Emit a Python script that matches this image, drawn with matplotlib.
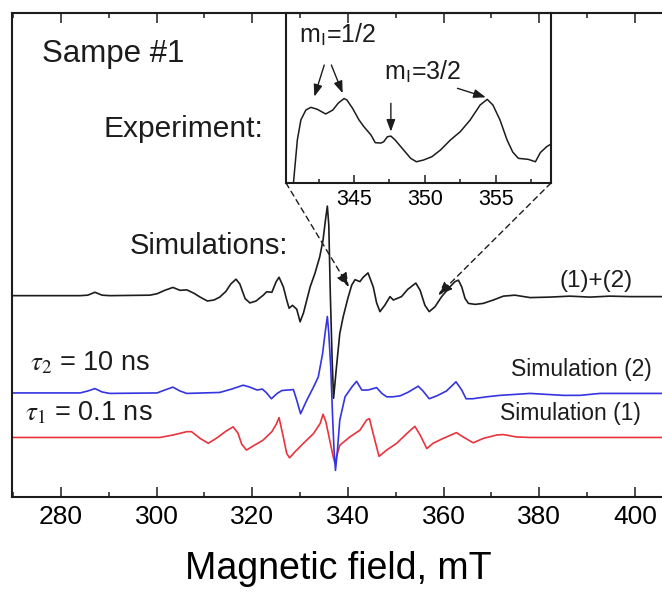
import matplotlib.pyplot as plt
from matplotlib.ticker import MultipleLocator

plt.rcParams['font.family'] = ['Liberation Sans', 'DejaVu Sans']
plt.rcParams['mathtext.fontset'] = 'stix'
plt.rcParams['lines.solid_joinstyle'] = 'round'

# (1)+(2): summed simulation, field in mT, signal in arbitrary units
sum_field = [269.8, 284.0, 285.6, 287.1, 288.6, 290.2, 298.6, 300.1, 301.7, 303.4,
             304.9, 306.3, 307.8, 309.1, 310.6, 312.0, 313.2, 314.5, 315.5, 316.6,
             317.4, 318.5, 319.5, 320.8, 322.3, 323.0, 324.1, 325.0, 325.6, 326.5,
             327.2, 327.7, 328.4, 329.3, 330.0, 330.7, 331.4, 332.1, 333.1, 334.1,
             334.8, 335.3, 335.7, 336.0, 336.3, 336.7, 337.0, 337.6, 338.3, 339.0,
             340.0, 340.8, 341.5, 342.5, 343.2, 344.2, 345.3, 346.0, 346.7, 347.7,
             348.8, 349.5, 351.2, 352.5, 354.2, 355.1, 356.1, 357.0, 358.2, 359.6,
             361.3, 362.4, 363.1, 363.8, 364.5, 365.2, 366.6, 368.3, 370.4, 372.5,
             374.9, 378.1, 382.2, 386.4, 390.6, 394.8, 399.0, 406.0]
sum_signal = [0.0, 0.0, 0.1, 0.7, 0.1, 0.0, 0.1, 0.4, 1.1, 1.7,
              1.1, 1.2, 0.5, -0.3, -1.1, -0.9, -0.3, 0.9, 2.4, 3.4,
              2.4, -0.6, -1.5, -1.1, 0.1, 0.8, 0.7, 2.9, 3.8, 1.8,
              -0.9, -2.6, -2.0, -2.8, -5.4, -3.6, -0.9, 1.8, 4.6, 8.0,
              11.5, 15.6, 18.5, 14.6, 1.1, -13.3, -21.2, -14.8, -7.8, -4.4,
              -0.5, 2.2, 3.3, 2.9, 3.8, 4.7, 1.8, -1.5, -3.3, -2.0,
              -0.2, -0.9, -0.2, 1.3, 2.6, 1.1, -2.0, -3.3, -2.3, -0.2,
              1.8, 2.9, 3.2, 1.8, -0.6, -1.6, -1.8, -1.6, -0.9, -0.1,
              0.1, -0.4, -0.3, -0.1, -0.3, -0.1, -0.2, -0.2]

# Simulation (2), tau2 = 10 ns
sim2_field = [269.8, 284.0, 285.6, 287.1, 288.6, 290.2, 300.1, 301.7, 303.4, 304.9,
              306.3, 313.2, 315.7, 318.1, 319.5, 321.0, 322.1, 322.9, 324.0, 325.2,
              326.2, 328.6, 329.3, 330.1, 331.4, 332.8, 333.8, 334.7, 335.2, 335.7,
              336.0, 336.4, 336.8, 337.1, 337.4, 337.8, 338.3, 339.4, 340.8, 341.8,
              342.9, 344.2, 346.0, 347.1, 348.1, 349.4, 350.9, 352.5, 354.7, 355.7,
              357.0, 358.6, 360.6, 362.6, 363.8, 364.7, 366.1, 369.0, 371.8, 378.1,
              385.0, 388.5, 392.7, 406.0]
sim2_signal = [0.0, 0.0, 0.4, 0.9, 0.2, -0.1, 0.0, 0.6, 1.2, 0.4,
               -0.1, 0.1, 0.8, 1.6, 1.2, 0.6, 0.8, 0.1, -1.2, -0.1,
               0.5, 0.7, -1.5, -4.3, -1.5, 1.2, 3.3, 8.1, 12.2, 15.8,
               12.3, 5.4, -5.0, -11.9, -16.0, -11.9, -5.6, -0.8, 1.2, 2.4,
               0.6, 0.6, 1.1, -0.1, -0.8, -0.8, -0.6, 0.1, 1.4, 0.4,
               -1.2, -0.6, 0.4, 2.3, 0.6, -1.2, -1.2, -0.8, -0.5, -0.1,
               -0.5, -0.5, -0.1, -0.1]

# Simulation (1), tau1 = 0.1 ns
sim1_field = [269.8, 300.7, 303.4, 306.3, 307.3, 309.1, 310.8, 312.6, 314.5, 316.0,
              317.0, 317.8, 318.8, 320.1, 322.2, 324.1, 325.0, 325.6, 326.4, 327.2,
              327.8, 328.9, 330.7, 332.8, 334.2, 334.8, 335.4, 336.2, 336.9, 337.3,
              337.7, 338.3, 340.4, 342.5, 343.9, 344.5, 345.2, 346.5, 348.1, 350.2,
              352.3, 354.0, 355.1, 356.5, 357.8, 359.9, 362.7, 364.1, 366.2, 368.3,
              371.1, 372.5, 375.3, 378.1, 406.0]
sim1_signal = [0.0, 0.0, 0.5, 1.2, 1.2, -0.2, -1.2, -0.1, 1.3, 2.2,
               0.9, -1.4, -2.6, -1.8, -0.6, 1.2, 2.7, 4.1, 0.5, -3.3,
               -4.2, -3.0, -1.2, 0.8, 2.9, 4.8, 3.2, -0.6, -3.9, -5.4,
               -3.7, -1.6, 0.1, 1.5, 3.6, 3.9, 1.1, -3.9, -2.6, -1.2,
               0.8, 2.3, 0.5, -2.3, -1.2, -0.2, 1.0, 0.1, -1.1, -0.2,
               0.5, 0.6, 0.1, 0.0, 0.0]

sum_offset = 41.6
sim2_offset = 21.5
sim1_offset = 12.3

# experiment (inset)
exp_field = [340.65, 341.0, 341.25, 341.6, 341.95, 342.4, 343.0, 343.5, 343.9, 344.3,
             344.5, 344.9, 345.35, 345.7, 346.2, 346.5, 346.9, 347.1, 347.35, 347.6,
             347.9, 348.5, 349.0, 349.4, 349.9, 350.5, 351.1, 351.8, 352.5, 353.2,
             353.9, 354.4, 354.8, 355.3, 355.8, 356.2, 356.6, 357.3, 357.8, 358.15,
             358.6, 358.9]
exp_signal = [-7.0, 25.3, 37.1, 42.9, 44.5, 43.4, 40.6, 42.9, 47.1, 49.7,
              48.8, 43.9, 37.1, 33.1, 28.2, 23.7, 23.5, 24.3, 27.2, 27.6,
              25.3, 19.4, 14.5, 12.5, 13.5, 15.5, 19.4, 25.3, 30.2, 37.1,
              45.9, 49.2, 45.9, 37.1, 25.3, 18.2, 14.5, 13.9, 12.5, 17.9,
              21.4, 22.9]

ink = '#1c1c1c'

fig = plt.figure(figsize=(6.62, 5.94), dpi=100)
ax = fig.add_axes([12 / 662, 1 - 497 / 594, 653 / 662, 484 / 594])

ax.plot(sim1_field, [v + sim1_offset for v in sim1_signal], color='#e8343c', lw=1.2)
ax.plot(sim2_field, [v + sim2_offset for v in sim2_signal], color='#3434e0', lw=1.2)
ax.plot(sum_field, [v + sum_offset for v in sum_signal], color=ink, lw=1.2)

ax.set_xlim(269.76, 406.3)
ax.set_ylim(0, 100)
ax.xaxis.set_major_locator(MultipleLocator(20))
ax.xaxis.set_minor_locator(MultipleLocator(10))
ax.tick_params(axis='x', which='both', direction='in', top=True, bottom=True,
               labelsize=19, pad=6, width=1.1, color=ink)
ax.tick_params(axis='x', which='major', length=7)
ax.tick_params(axis='x', which='minor', length=3.5)
ax.tick_params(axis='y', left=False, labelleft=False)
for s in ax.spines.values():
    s.set_linewidth(1.5)
    s.set_color(ink)
ax.set_xlabel('Magnetic field, mT', fontsize=27, labelpad=15.5)

ax.text(276.0, 89.9, 'Sampe #1', fontsize=22.5, color=ink)
ax.text(288.8, 74.4, 'Experiment:', fontsize=21.5, color=ink)
ax.text(294.4, 50.2, 'Simulations:', fontsize=21, color=ink)
ax.text(384.3, 43.3, '(1)+(2)', fontsize=17.5, color=ink)
ax.text(374.1, 24.9, 'Simulation (2)', fontsize=16.5, color=ink)
ax.text(371.9, 15.9, 'Simulation (1)', fontsize=16.5, color=ink)
ax.text(273.5, 26.1, r'$\tau_2$ = 10 ns', fontsize=19.5, color=ink)
ax.text(272.5, 15.9, r'$\tau_1$ = 0.1 ns', fontsize=19.5, color=ink)

# inset with the experimental spectrum
axins = fig.add_axes([286 / 662, 1 - 183 / 594, 265 / 662, 170 / 594])
axins.patch.set_alpha(0)
axins.plot(exp_field, exp_signal, color=ink, lw=1.1)
axins.set_xlim(340.2, 358.9)
axins.set_ylim(0, 100)
axins.xaxis.set_major_locator(MultipleLocator(5))
axins.xaxis.set_minor_locator(MultipleLocator(2.5))
axins.tick_params(axis='x', which='both', direction='in', labelsize=15.5, pad=4,
                  width=1.1, color=ink)
axins.tick_params(axis='x', which='major', length=6)
axins.tick_params(axis='x', which='minor', length=3)
axins.tick_params(axis='y', left=False, labelleft=False)
for s in axins.spines.values():
    s.set_linewidth(1.5)
    s.set_color(ink)

arrow = dict(arrowstyle='-|>,head_length=0.6,head_width=0.22', color=ink, lw=1.0,
             shrinkA=0, shrinkB=0, mutation_scale=12)
axins.text(341.1, 82.4, r'm$_\mathregular{I}$=1/2', fontsize=18, color=ink)
axins.text(347.1, 60.6, r'm$_\mathregular{I}$=3/2', fontsize=18, color=ink)
axins.annotate('', xy=(342.2, 50.8), xytext=(342.9, 69.4), arrowprops=arrow)
axins.annotate('', xy=(344.2, 52.8), xytext=(343.4, 69.4), arrowprops=arrow)
axins.annotate('', xy=(354.3, 50.4), xytext=(352.3, 55.7), arrowprops=arrow)
axins.annotate('', xy=(347.6, 30.2), xytext=(347.6, 46.9), arrowprops=arrow)

# dashed zoom lines from inset corners to the summed spectrum
fig.canvas.draw()
to_data = ax.transData.inverted()
for corner, tip in [((0, 0), (340.2, 43.4)), ((1, 0), (358.9, 41.7))]:
    start = to_data.transform(axins.transAxes.transform(corner))
    ax.annotate('', xy=tip, xytext=start,
                arrowprops=dict(arrowstyle='-|>,head_length=0.7,head_width=0.28',
                                linestyle=(0, (4, 3)), color=ink, lw=1.0,
                                shrinkA=0, shrinkB=0, mutation_scale=12))

fig.savefig('out.png', dpi=100)
